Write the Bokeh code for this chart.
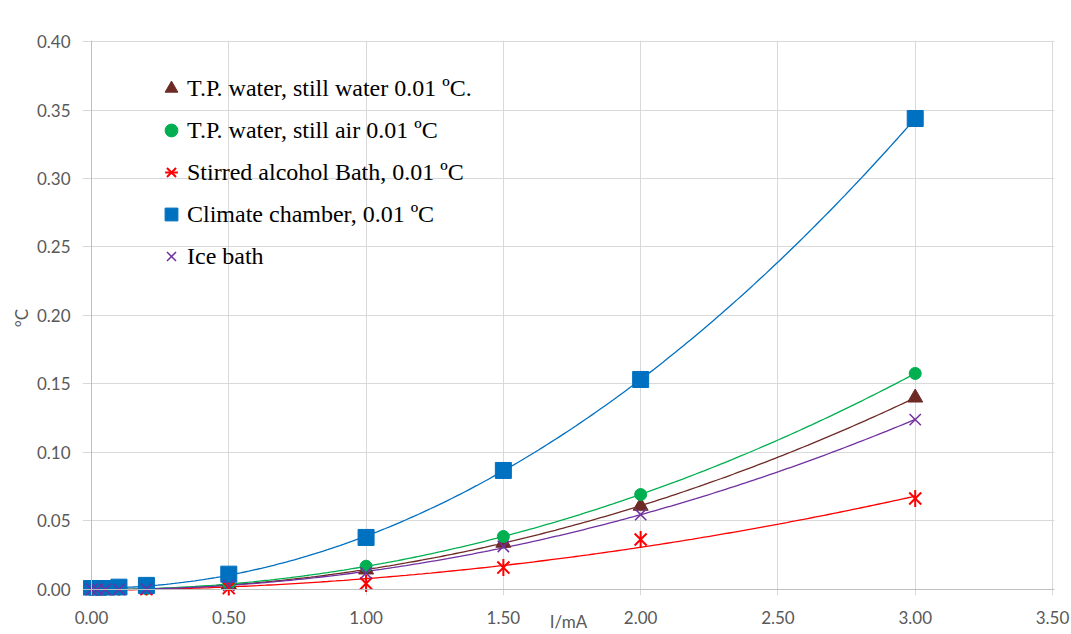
import numpy as np
from bokeh.plotting import figure
from bokeh.models import (FixedTicker, NumeralTickFormatter, Legend, LegendItem,
                          Span, Range1d)
from bokeh.embed import file_html
from bokeh.resources import INLINE

# ---------------- data ----------------
current_mA = [0.0, 0.02, 0.05, 0.1, 0.2, 0.5, 1.0, 1.5, 2.0, 3.0]
tp_still_water = [0.0, 0.0, 0.0, 0.0001, 0.0004, 0.0035, 0.0145, 0.0340, 0.0610, 0.1400]
tp_still_air = [0.0, 0.0, 0.0, 0.0002, 0.0005, 0.0040, 0.0170, 0.0387, 0.0693, 0.1577]
stirred_alcohol = [0.0, 0.0, 0.0, 0.0, 0.0, 0.0010, 0.0044, 0.0160, 0.0365, 0.0664]
climate_chamber = [0.0007, 0.0007, 0.0007, 0.0017, 0.0030, 0.0112, 0.0380, 0.0869, 0.1533, 0.3438]
ice_bath = [0.0, 0.0, 0.0, 0.0001, 0.0004, 0.0030, 0.0120, 0.0314, 0.0547, 0.1240]

series_names = ["T.P. water, still water 0.01 ºC.",
                "T.P. water, still air 0.01 ºC",
                "Stirred alcohol Bath, 0.01 ºC",
                "Climate chamber, 0.01 ºC",
                "Ice bath"]
x_ticks = [0.0, 0.5, 1.0, 1.5, 2.0, 2.5, 3.0, 3.5]
y_ticks = [0.0, 0.05, 0.10, 0.15, 0.20, 0.25, 0.30, 0.35, 0.40]
x_label = "I/mA"
y_label = "°C"

# ---------------- figure ----------------
p = figure(width=1071, height=634,
           x_range=Range1d(-0.03278, 3.50728), y_range=Range1d(-0.00438, 0.40073),
           output_backend="svg", toolbar_location=None,
           min_border_left=82, min_border_right=17, min_border_top=40, min_border_bottom=39)
p.outline_line_color = None
p.background_fill_color = "white"

tick_color = "#595959"
for ax in (p.xaxis, p.yaxis):
    ax.axis_line_color = None
    ax.major_tick_line_color = None
    ax.minor_tick_line_color = None
    ax.major_label_text_font = "Lato"
    ax.major_label_text_font_size = "17px"
    ax.major_label_text_color = tick_color
    ax.formatter = NumeralTickFormatter(format="0.00")
    ax.axis_label_text_font = "Lato"
    ax.axis_label_text_font_size = "17px"
    ax.axis_label_text_font_style = "normal"
    ax.axis_label_text_color = tick_color
p.xaxis.ticker = FixedTicker(ticks=x_ticks)
p.yaxis.ticker = FixedTicker(ticks=y_ticks)
p.xaxis.major_label_standoff = 9
p.yaxis.major_label_standoff = 6
p.yaxis.axis_label = y_label
p.yaxis.axis_label_standoff = 2
p.xaxis.axis_label = x_label
p.xaxis.axis_label_standoff = -16

p.xgrid.ticker = FixedTicker(ticks=x_ticks)
p.ygrid.ticker = FixedTicker(ticks=y_ticks)
for g in (p.xgrid, p.ygrid):
    g.grid_line_color = "#d9d9d9"
    g.grid_line_width = 1

p.add_layout(Span(location=0, dimension="height", line_color="#bfbfbf", line_width=1))
p.add_layout(Span(location=0, dimension="width", line_color="#bfbfbf", line_width=1))

colors = ["#6E2B26", "#00B050", "#FF0000", "#0070C0", "#7030A0"]
series = [tp_still_water, tp_still_air, stirred_alcohol, climate_chamber, ice_bath]

# polynomial (order 2) trendlines, as in the original spreadsheet chart
xs_fit = np.linspace(0.0, max(current_mA), 200)
for ys, c in zip(series, colors):
    coef = np.polyfit(current_mA, ys, 2)
    p.line(xs_fit, np.polyval(coef, xs_fit), line_color=c, line_width=1.3)

r_tri = p.scatter(current_mA, tp_still_water, marker="triangle", size=15,
                  fill_color=colors[0], line_color=colors[0])
r_circ = p.scatter(current_mA, tp_still_air, marker="circle", size=12,
                   fill_color=colors[1], line_color=colors[1])
r_star_x = p.scatter(current_mA, stirred_alcohol, marker="x", size=17,
                     line_color=colors[2], line_width=2)
r_star_v = p.scatter(current_mA, stirred_alcohol, marker="dash", size=17, angle=np.pi / 2,
                     line_color=colors[2], line_width=2)
r_sq = p.scatter(current_mA, climate_chamber, marker="square", size=16,
                 fill_color=colors[3], line_color=colors[3])
r_x = p.scatter(current_mA, ice_bath, marker="x", size=16,
                line_color=colors[4], line_width=1.5)

items = [LegendItem(label=series_names[0], renderers=[r_tri]),
         LegendItem(label=series_names[1], renderers=[r_circ]),
         LegendItem(label=series_names[2], renderers=[r_star_x, r_star_v]),
         LegendItem(label=series_names[3], renderers=[r_sq]),
         LegendItem(label=series_names[4], renderers=[r_x])]
legend = Legend(items=items, location=(73, 321), orientation="vertical",
                glyph_width=32, glyph_height=36, label_height=36, label_standoff=0,
                spacing=6, padding=0, margin=0,
                border_line_color=None, background_fill_alpha=0,
                label_text_font="Liberation Serif", label_text_font_size="24px",
                label_text_color="black")
p.add_layout(legend)

open("out.html", "w").write(file_html(p, INLINE))
